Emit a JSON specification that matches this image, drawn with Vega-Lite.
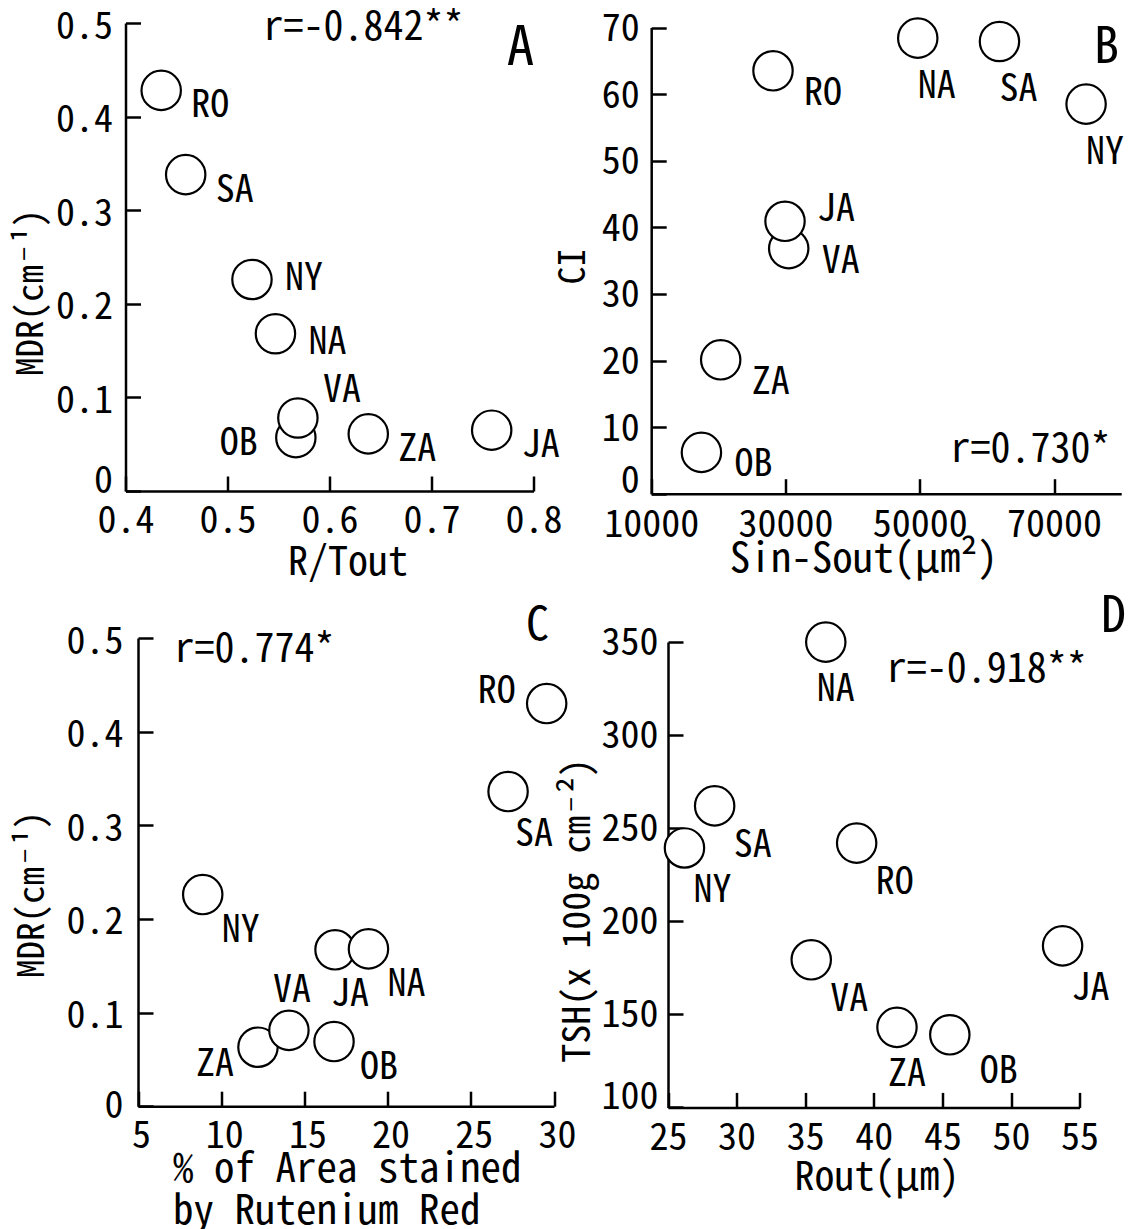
{
  "$schema": "https://vega.github.io/schema/vega-lite/v6.json",
  "padding": {"left": 12.5, "top": 8, "right": 0, "bottom": 0},
  "background": "white",
  "columns": 2,
  "bounds": "flush",
  "spacing": {"column": 85, "row": 130},
  "datasets": {
    "A": [
      {"site": "RO", "rtout": 0.435, "mdr": 0.428},
      {"site": "SA", "rtout": 0.459, "mdr": 0.338},
      {"site": "NY", "rtout": 0.524, "mdr": 0.226},
      {"site": "NA", "rtout": 0.547, "mdr": 0.168},
      {"site": "OB", "rtout": 0.567, "mdr": 0.057},
      {"site": "VA", "rtout": 0.569, "mdr": 0.078},
      {"site": "ZA", "rtout": 0.638, "mdr": 0.061},
      {"site": "JA", "rtout": 0.759, "mdr": 0.065}
    ],
    "B": [
      {"site": "NA", "sinsout": 49700, "ci": 68.4},
      {"site": "SA", "sinsout": 61870, "ci": 67.9},
      {"site": "NY", "sinsout": 74770, "ci": 58.5},
      {"site": "RO", "sinsout": 28140, "ci": 63.5},
      {"site": "VA", "sinsout": 30480, "ci": 36.8},
      {"site": "JA", "sinsout": 29930, "ci": 40.9},
      {"site": "ZA", "sinsout": 20350, "ci": 20.1},
      {"site": "OB", "sinsout": 17480, "ci": 6.2}
    ],
    "C": [
      {"site": "RO", "stained": 29.56, "mdr": 0.430},
      {"site": "SA", "stained": 27.24, "mdr": 0.336},
      {"site": "NY", "stained": 8.89, "mdr": 0.226},
      {"site": "JA", "stained": 16.84, "mdr": 0.167},
      {"site": "NA", "stained": 18.85, "mdr": 0.168},
      {"site": "ZA", "stained": 12.21, "mdr": 0.063},
      {"site": "VA", "stained": 14.07, "mdr": 0.081},
      {"site": "OB", "stained": 16.78, "mdr": 0.069}
    ],
    "D": [
      {"site": "NA", "rout": 36.5, "tsh": 350},
      {"site": "SA", "rout": 28.4, "tsh": 262},
      {"site": "NY", "rout": 26.2, "tsh": 239.4},
      {"site": "RO", "rout": 38.75, "tsh": 242},
      {"site": "VA", "rout": 35.44, "tsh": 179.3},
      {"site": "ZA", "rout": 41.69, "tsh": 143},
      {"site": "OB", "rout": 45.54, "tsh": 139},
      {"site": "JA", "rout": 53.76, "tsh": 186.8}
    ],
    "notes": [
      {"note": "r=-0.842**"}, {"note": "A"},
      {"note": "r=0.730*"}, {"note": "B"},
      {"note": "r=0.774*"}, {"note": "C"},
      {"note": "r=-0.918**"}, {"note": "D"}
    ]
  },
  "concat": [
    {
      "width": 440, "height": 480,
      "layer": [
        {"data": {"name": "A"}, "mark": {"type": "point", "shape": "circle", "size": 1550, "filled": true, "fill": "white", "stroke": "black", "strokeWidth": 2.2, "opacity": 1},
         "encoding": {
          "x": {"field": "rtout", "type": "quantitative", "scale": {"domain": [0.4, 0.8], "range": [5, 413], "zero": false, "nice": false},
                "axis": {"values": [0.4, 0.5, 0.6, 0.7, 0.8], "format": ".1f", "offset": -9, "title": "R/Tout", "titleX": 227, "titleY": 83, "titleBaseline": "alphabetic", "titleAlign": "center", "titleAnchor": null, "labelPadding": 26}},
          "y": {"field": "mdr", "type": "quantitative", "scale": {"domain": [0, 0.5], "range": [471, 3], "zero": false, "nice": false},
                "axis": {"values": [0, 0.1, 0.2, 0.3, 0.4, 0.5], "format": "~g", "offset": -5, "title": "MDR(cm⁻¹)", "titleX": -94, "titleY": 272, "titleAngle": -90, "titleBaseline": "middle", "titleAlign": "center", "titleFontSize": 37, "labelPadding": 28,
                         "labelOffset": {"condition": {"test": "datum.value == 0", "value": -10}, "value": 4}}}
         }},
        {"data": {"name": "A"}, "transform": [{"filter": {"field": "site", "oneOf": ["RO", "SA", "ZA", "JA"]}}], "mark": {"type": "text", "dx": 49, "dy": 16}, "encoding": {"x": {"field": "rtout", "type": "quantitative"}, "y": {"field": "mdr", "type": "quantitative"}, "text": {"field": "site"}}},
        {"data": {"name": "A"}, "transform": [{"filter": {"field": "site", "oneOf": ["NA"]}}], "mark": {"type": "text", "dx": 52, "dy": 9}, "encoding": {"x": {"field": "rtout", "type": "quantitative"}, "y": {"field": "mdr", "type": "quantitative"}, "text": {"field": "site"}}},
        {"data": {"name": "A"}, "transform": [{"filter": {"field": "site", "oneOf": ["NY"]}}], "mark": {"type": "text", "dx": 52, "dy": 0}, "encoding": {"x": {"field": "rtout", "type": "quantitative"}, "y": {"field": "mdr", "type": "quantitative"}, "text": {"field": "site"}}},
        {"data": {"name": "A"}, "transform": [{"filter": {"field": "site", "oneOf": ["VA"]}}], "mark": {"type": "text", "dx": 44, "dy": -27}, "encoding": {"x": {"field": "rtout", "type": "quantitative"}, "y": {"field": "mdr", "type": "quantitative"}, "text": {"field": "site"}}},
        {"data": {"name": "A"}, "transform": [{"filter": {"field": "site", "oneOf": ["OB"]}}], "mark": {"type": "text", "dx": -57, "dy": 6}, "encoding": {"x": {"field": "rtout", "type": "quantitative"}, "y": {"field": "mdr", "type": "quantitative"}, "text": {"field": "site"}}},
        {"data": {"name": "notes"}, "transform": [{"filter": {"field": "note", "equal": "r=-0.842**"}}], "mark": {"type": "text", "align": "left", "baseline": "alphabetic", "fontSize": 40},
         "encoding": {"x": {"datum": 0.5353, "type": "quantitative"}, "y": {"datum": 0.4818, "type": "quantitative"}, "text": {"field": "note"}}},
        {"data": {"name": "notes"}, "transform": [{"filter": {"field": "note", "equal": "A"}}], "mark": {"type": "text", "align": "center", "baseline": "alphabetic", "fontSize": 55},
         "encoding": {"x": {"datum": 0.7873, "type": "quantitative"}, "y": {"datum": 0.455, "type": "quantitative"}, "text": {"field": "note"}}}
      ]
    },
    {
      "width": 480, "height": 480,
      "layer": [
        {"data": {"name": "B"}, "mark": {"type": "point", "shape": "circle", "size": 1550, "filled": true, "fill": "white", "stroke": "black", "strokeWidth": 2.2, "opacity": 1},
         "encoding": {
          "x": {"field": "sinsout", "type": "quantitative", "scale": {"domain": [10000, 80000], "range": [5.7, 475.7], "zero": false, "nice": false},
                "axis": {"values": [10000, 30000, 50000, 70000], "format": "d", "offset": -6.3, "title": "Sin-Sout(μm²)", "titleX": 217.7, "titleY": 78, "titleBaseline": "alphabetic", "titleAlign": "center", "titleAnchor": null, "titleFontSize": 41, "labelPadding": 28}},
          "y": {"field": "ci", "type": "quantitative", "scale": {"domain": [0, 70], "range": [473.7, 7.5], "zero": false, "nice": false},
                "axis": {"values": [0, 10, 20, 30, 40, 50, 60, 70], "format": "d", "offset": -5.7, "title": "CI", "titleX": -77.7, "titleY": 246, "titleAngle": -90, "titleBaseline": "middle", "titleAlign": "center", "titleFontSize": 36, "labelPadding": 27,
                         "labelOffset": {"condition": {"test": "datum.value == 0", "value": -12}, "value": 2}}}
         }},
        {"data": {"name": "B"}, "transform": [{"filter": {"field": "site", "oneOf": ["NA", "SA", "NY"]}}], "mark": {"type": "text", "dx": 19, "dy": 49}, "encoding": {"x": {"field": "sinsout", "type": "quantitative"}, "y": {"field": "ci", "type": "quantitative"}, "text": {"field": "site"}}},
        {"data": {"name": "B"}, "transform": [{"filter": {"field": "site", "oneOf": ["RO", "ZA"]}}], "mark": {"type": "text", "dx": 50, "dy": 23}, "encoding": {"x": {"field": "sinsout", "type": "quantitative"}, "y": {"field": "ci", "type": "quantitative"}, "text": {"field": "site"}}},
        {"data": {"name": "B"}, "transform": [{"filter": {"field": "site", "oneOf": ["JA"]}}], "mark": {"type": "text", "dx": 51, "dy": -11}, "encoding": {"x": {"field": "sinsout", "type": "quantitative"}, "y": {"field": "ci", "type": "quantitative"}, "text": {"field": "site"}}},
        {"data": {"name": "B"}, "transform": [{"filter": {"field": "site", "oneOf": ["VA", "OB"]}}], "mark": {"type": "text", "dx": 52, "dy": 13}, "encoding": {"x": {"field": "sinsout", "type": "quantitative"}, "y": {"field": "ci", "type": "quantitative"}, "text": {"field": "site"}}},
        {"data": {"name": "notes"}, "transform": [{"filter": {"field": "note", "equal": "r=0.730*"}}], "mark": {"type": "text", "align": "left", "baseline": "alphabetic", "fontSize": 40},
         "encoding": {"x": {"datum": 54570, "type": "quantitative"}, "y": {"datum": 4.76, "type": "quantitative"}, "text": {"field": "note"}}},
        {"data": {"name": "notes"}, "transform": [{"filter": {"field": "note", "equal": "B"}}], "mark": {"type": "text", "align": "center", "baseline": "alphabetic", "fontSize": 50},
         "encoding": {"x": {"datum": 77805, "type": "quantitative"}, "y": {"datum": 64.7, "type": "quantitative"}, "text": {"field": "note"}}}
      ]
    },
    {
      "width": 440, "height": 480,
      "layer": [
        {"data": {"name": "C"}, "mark": {"type": "point", "shape": "circle", "size": 1550, "filled": true, "fill": "white", "stroke": "black", "strokeWidth": 2.2, "opacity": 1},
         "encoding": {
          "x": {"field": "stained", "type": "quantitative", "scale": {"domain": [5, 30], "range": [17.5, 433.5], "zero": false, "nice": false},
                "axis": {"values": [5, 10, 15, 20, 25, 30], "format": "d", "offset": -3.8, "title": ["% of Area stained", "by  Rutenium Red"], "titleX": 52, "titleY": 75, "titleBaseline": "alphabetic", "titleAlign": "left", "titleAnchor": null, "titleFontSize": 41, "titleLineHeight": 42, "labelPadding": 26, "labelOffset": 3}},
          "y": {"field": "mdr", "type": "quantitative", "scale": {"domain": [0, 0.5], "range": [476.2, 8], "zero": false, "nice": false},
                "axis": {"values": [0, 0.1, 0.2, 0.3, 0.4, 0.5], "format": "~g", "offset": -17.5, "title": "MDR(cm⁻¹)", "titleX": -105.5, "titleY": 264, "titleAngle": -90, "titleBaseline": "middle", "titleAlign": "center", "titleFontSize": 37, "labelPadding": 30,
                         "labelOffset": {"condition": {"test": "datum.value == 0", "value": 0}, "value": 4}}}
         }},
        {"data": {"name": "C"}, "transform": [{"filter": {"field": "site", "oneOf": ["RO"]}}], "mark": {"type": "text", "dx": -50, "dy": -12}, "encoding": {"x": {"field": "stained", "type": "quantitative"}, "y": {"field": "mdr", "type": "quantitative"}, "text": {"field": "site"}}},
        {"data": {"name": "C"}, "transform": [{"filter": {"field": "site", "oneOf": ["SA"]}}], "mark": {"type": "text", "dx": 26, "dy": 43}, "encoding": {"x": {"field": "stained", "type": "quantitative"}, "y": {"field": "mdr", "type": "quantitative"}, "text": {"field": "site"}}},
        {"data": {"name": "C"}, "transform": [{"filter": {"field": "site", "oneOf": ["NY", "NA"]}}], "mark": {"type": "text", "dx": 38, "dy": 36}, "encoding": {"x": {"field": "stained", "type": "quantitative"}, "y": {"field": "mdr", "type": "quantitative"}, "text": {"field": "site"}}},
        {"data": {"name": "C"}, "transform": [{"filter": {"field": "site", "oneOf": ["JA"]}}], "mark": {"type": "text", "dx": 15, "dy": 45}, "encoding": {"x": {"field": "stained", "type": "quantitative"}, "y": {"field": "mdr", "type": "quantitative"}, "text": {"field": "site"}}},
        {"data": {"name": "C"}, "transform": [{"filter": {"field": "site", "oneOf": ["VA"]}}], "mark": {"type": "text", "dx": 3, "dy": -39}, "encoding": {"x": {"field": "stained", "type": "quantitative"}, "y": {"field": "mdr", "type": "quantitative"}, "text": {"field": "site"}}},
        {"data": {"name": "C"}, "transform": [{"filter": {"field": "site", "oneOf": ["ZA"]}}], "mark": {"type": "text", "dx": -43, "dy": 18}, "encoding": {"x": {"field": "stained", "type": "quantitative"}, "y": {"field": "mdr", "type": "quantitative"}, "text": {"field": "site"}}},
        {"data": {"name": "C"}, "transform": [{"filter": {"field": "site", "oneOf": ["OB"]}}], "mark": {"type": "text", "dx": 45, "dy": 26}, "encoding": {"x": {"field": "stained", "type": "quantitative"}, "y": {"field": "mdr", "type": "quantitative"}, "text": {"field": "site"}}},
        {"data": {"name": "notes"}, "transform": [{"filter": {"field": "note", "equal": "r=0.774*"}}], "mark": {"type": "text", "align": "left", "baseline": "alphabetic", "fontSize": 40},
         "encoding": {"x": {"datum": 7.19, "type": "quantitative"}, "y": {"datum": 0.4746, "type": "quantitative"}, "text": {"field": "note"}}},
        {"data": {"name": "notes"}, "transform": [{"filter": {"field": "note", "equal": "C"}}], "mark": {"type": "text", "align": "center", "baseline": "alphabetic", "fontSize": 46},
         "encoding": {"x": {"datum": 29.01, "type": "quantitative"}, "y": {"datum": 0.498, "type": "quantitative"}, "text": {"field": "note"}}}
      ]
    },
    {
      "width": 480, "height": 480,
      "layer": [
        {"data": {"name": "D"}, "mark": {"type": "point", "shape": "circle", "size": 1550, "filled": true, "fill": "white", "stroke": "black", "strokeWidth": 2.2, "opacity": 1},
         "encoding": {
          "x": {"field": "rout", "type": "quantitative", "scale": {"domain": [25, 55], "range": [22.5, 434.1], "zero": false, "nice": false},
                "axis": {"values": [25, 30, 35, 40, 45, 50, 55], "format": "d", "offset": -2.6, "title": "Rout(μm)", "titleX": 231, "titleY": 82, "titleBaseline": "alphabetic", "titleAlign": "center", "titleAnchor": null, "titleFontSize": 40, "labelPadding": 27}},
          "y": {"field": "tsh", "type": "quantitative", "scale": {"domain": [100, 350], "range": [477.4, 12.1], "zero": false, "nice": false},
                "axis": {"values": [100, 150, 200, 250, 300, 350], "format": "d", "offset": -22.5, "title": "TSH(x 100g cm⁻²)", "titleX": -89.5, "titleY": 280, "titleAngle": -90, "titleBaseline": "middle", "titleAlign": "center", "titleFontSize": 38, "labelPadding": 25,
                         "labelOffset": {"condition": {"test": "datum.value == 100", "value": -10}, "value": 1}}}
         }},
        {"data": {"name": "D"}, "transform": [{"filter": {"field": "site", "oneOf": ["NA", "ZA"]}}], "mark": {"type": "text", "dx": 10, "dy": 48}, "encoding": {"x": {"field": "rout", "type": "quantitative"}, "y": {"field": "tsh", "type": "quantitative"}, "text": {"field": "site"}}},
        {"data": {"name": "D"}, "transform": [{"filter": {"field": "site", "oneOf": ["SA", "RO", "VA"]}}], "mark": {"type": "text", "dx": 38, "dy": 40}, "encoding": {"x": {"field": "rout", "type": "quantitative"}, "y": {"field": "tsh", "type": "quantitative"}, "text": {"field": "site"}}},
        {"data": {"name": "D"}, "transform": [{"filter": {"field": "site", "oneOf": ["NY", "JA"]}}], "mark": {"type": "text", "dx": 28, "dy": 43}, "encoding": {"x": {"field": "rout", "type": "quantitative"}, "y": {"field": "tsh", "type": "quantitative"}, "text": {"field": "site"}}},
        {"data": {"name": "D"}, "transform": [{"filter": {"field": "site", "oneOf": ["OB"]}}], "mark": {"type": "text", "dx": 49, "dy": 37}, "encoding": {"x": {"field": "rout", "type": "quantitative"}, "y": {"field": "tsh", "type": "quantitative"}, "text": {"field": "site"}}},
        {"data": {"name": "notes"}, "transform": [{"filter": {"field": "note", "equal": "r=-0.918**"}}], "mark": {"type": "text", "align": "left", "baseline": "alphabetic", "fontSize": 40},
         "encoding": {"x": {"datum": 40.95, "type": "quantitative"}, "y": {"datum": 328.5, "type": "quantitative"}, "text": {"field": "note"}}},
        {"data": {"name": "notes"}, "transform": [{"filter": {"field": "note", "equal": "D"}}], "mark": {"type": "text", "align": "center", "baseline": "alphabetic", "fontSize": 50},
         "encoding": {"x": {"datum": 57.47, "type": "quantitative"}, "y": {"datum": 355.3, "type": "quantitative"}, "text": {"field": "note"}}}
      ]
    }
  ],
  "config": {
    "view": {"stroke": null},
    "font": "Noto Sans Mono CJK JP, DejaVu Sans Mono, monospace",
    "axis": {
      "domainColor": "black", "domainWidth": 2.5, "tickColor": "black", "tickWidth": 2.5, "tickSize": -15, "grid": false,
      "labelFont": "Noto Sans Mono CJK JP, DejaVu Sans Mono, monospace", "labelFontSize": 38, "labelColor": "black", "labelFlush": false, "labelOverlap": false,
      "titleFont": "Noto Sans Mono CJK JP, DejaVu Sans Mono, monospace", "titleFontSize": 40, "titleFontWeight": "normal", "titleColor": "black"
    },
    "text": {"font": "Noto Sans Mono CJK JP, DejaVu Sans Mono, monospace", "fontSize": 38, "color": "black", "align": "center", "baseline": "middle"}
  }
}
